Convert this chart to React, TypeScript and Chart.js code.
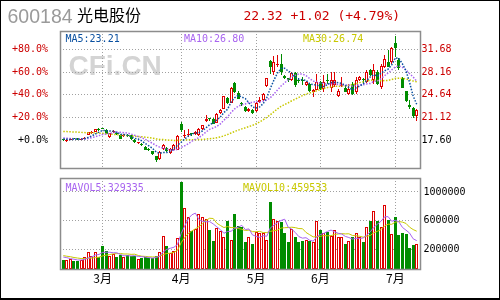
import React, { useEffect, useRef } from "react";
import { Chart, registerables } from "chart.js";

Chart.register(...registerables);

// ---------- text ----------
const stockCode = "600184";
const stockName = "光电股份";
const quoteText = "22.32 +1.02 (+4.79%)";
const maLabels = ["MA5:23.21", "MA10:26.80", "MA30:26.74"];
const volMaLabels = ["MAVOL5:329335", "MAVOL10:459533"];
const watermark = "CFi.CN";

// ---------- axes ----------
const baseClose = 17.6;
const priceTicks = [17.6, 21.12, 24.64, 28.16, 31.68];
const volumeTicks = [200000, 600000, 1000000];
const monthLabels = ["3月", "4月", "5月", "6月", "7月"];
const monthStartIndex = [11, 33, 54, 72, 93];

// ---------- daily data ----------
const opens = [
  17.70, 17.50, 17.68, 17.95, 17.85, 17.72, 17.82, 18.45, 18.80, 18.90,
  19.30, 19.45, 19.25, 18.12, 18.85, 18.73, 18.42, 18.28, 18.40, 18.37,
  17.70, 17.20, 17.10, 16.57, 16.30, 15.95, 15.12, 14.76, 16.31, 16.45,
  15.64, 16.15, 16.15, 20.08, 18.30, 18.45, 18.60, 18.60, 18.37, 19.30,
  20.60, 21.00, 20.96, 20.29, 21.84, 22.51, 24.16, 23.39, 26.49, 24.94,
  23.30, 22.77, 22.15, 22.35, 22.15, 23.55, 23.80, 26.02, 29.84, 28.19,
  29.22, 29.48, 27.52, 27.16, 26.90, 28.04, 26.95, 26.90, 26.12, 26.38,
  25.09, 25.45, 26.64, 25.61, 26.85, 25.76, 26.12, 24.47, 26.00, 25.76,
  24.83, 26.38, 25.09, 26.90, 27.00, 26.64, 28.45, 26.90, 28.19, 25.87,
  28.97, 29.74, 29.74, 32.58, 30.00, 27.31, 25.25, 23.02, 22.66, 21.37,
];
const highs = [
  17.80, 17.75, 17.95, 18.00, 17.95, 17.90, 18.15, 18.95, 19.10, 19.35,
  19.45, 19.55, 19.30, 18.80, 19.20, 18.90, 18.50, 18.50, 18.50, 18.45,
  17.80, 17.40, 17.15, 16.65, 16.40, 16.00, 15.20, 15.90, 17.00, 16.60,
  16.40, 17.00, 18.35, 20.44, 19.15, 19.40, 18.80, 19.00, 19.50, 20.00,
  21.50, 21.10, 21.00, 21.80, 22.40, 24.50, 24.30, 25.90, 26.60, 25.20,
  23.50, 22.90, 22.60, 22.50, 23.50, 24.30, 24.90, 27.20, 30.00, 30.62,
  30.77, 30.93, 27.70, 27.30, 28.10, 28.10, 27.20, 27.42, 26.80, 26.50,
  25.61, 27.93, 26.80, 27.67, 27.93, 28.19, 28.19, 25.61, 27.42, 26.00,
  26.38, 26.60, 27.42, 27.60, 27.20, 28.40, 28.60, 29.48, 28.40, 29.48,
  30.77, 31.55, 32.07, 33.72, 30.26, 27.40, 25.30, 23.80, 22.80, 22.40,
];
const lows = [
  17.45, 17.40, 17.60, 17.75, 17.70, 17.65, 17.75, 18.35, 18.55, 18.85,
  19.10, 19.30, 18.50, 18.00, 18.70, 18.45, 17.75, 18.10, 18.10, 17.70,
  17.20, 17.10, 16.70, 16.05, 15.95, 15.35, 14.24, 14.60, 16.15, 15.85,
  15.55, 16.00, 16.05, 18.89, 18.00, 18.10, 18.20, 18.40, 18.30, 19.20,
  20.45, 20.60, 20.10, 20.20, 21.70, 22.40, 23.20, 23.30, 24.90, 23.95,
  22.90, 22.00, 22.00, 21.70, 22.00, 23.30, 23.70, 25.90, 27.93, 27.67,
  28.97, 27.67, 27.10, 26.60, 26.80, 25.90, 26.50, 26.12, 26.00, 25.10,
  24.32, 25.35, 25.40, 25.09, 26.38, 25.09, 25.87, 24.32, 25.87, 25.00,
  24.57, 24.57, 24.83, 26.70, 26.50, 26.50, 27.50, 26.38, 26.20, 25.61,
  28.71, 28.90, 29.48, 30.52, 28.55, 25.70, 23.60, 22.51, 21.10, 20.60,
];
const closes = [
  17.60, 17.68, 17.85, 17.80, 17.78, 17.82, 18.00, 18.88, 18.90, 19.28,
  19.25, 19.38, 18.55, 18.73, 19.00, 18.53, 17.81, 18.35, 18.22, 17.81,
  17.29, 17.30, 16.85, 16.15, 16.05, 15.43, 14.50, 15.79, 16.82, 15.95,
  16.31, 16.82, 18.22, 19.15, 18.45, 18.55, 18.50, 18.90, 19.41, 19.92,
  20.96, 20.90, 20.18, 21.73, 22.25, 24.42, 23.39, 25.76, 25.09, 24.06,
  23.18, 22.15, 22.51, 21.84, 23.39, 23.90, 24.73, 27.16, 28.97, 29.74,
  29.48, 28.19, 27.31, 26.90, 28.04, 26.12, 26.85, 26.80, 26.64, 25.25,
  25.45, 26.64, 25.61, 26.64, 26.75, 27.00, 26.90, 25.19, 26.15, 25.09,
  25.61, 24.83, 26.90, 27.42, 26.90, 28.19, 27.67, 28.55, 26.38, 29.07,
  30.10, 28.97, 31.81, 31.81, 28.71, 25.76, 23.70, 22.77, 21.30, 22.32,
];
const volumes = [
  66000, 66000, 75000, 48000, 48000, 62000, 108000, 177000, 121000, 177000,
  98000, 250000, 190000, 121000, 144000, 98000, 130000, 98000, 130000, 121000,
  121000, 75000, 85000, 98000, 85000, 85000, 121000, 177000, 397000, 259000,
  158000, 190000, 369000, 1142000, 781000, 659000, 466000, 489000, 696000, 659000,
  627000, 480000, 328000, 498000, 466000, 374000, 604000, 342000, 701000, 535000,
  512000, 314000, 383000, 287000, 443000, 434000, 434000, 342000, 866000, 627000,
  604000, 590000, 429000, 314000, 489000, 374000, 305000, 328000, 342000, 319000,
  305000, 604000, 480000, 434000, 452000, 397000, 480000, 383000, 383000, 287000,
  319000, 374000, 439000, 374000, 314000, 521000, 604000, 742000, 595000, 512000,
  825000, 618000, 425000, 659000, 411000, 439000, 425000, 226000, 264000, 285000,
];
// sessions before the visible window (needed for the moving averages)
const priorCloses = [
  18.3, 18.6, 18.9, 18.5, 18.8, 19.2, 19.0, 19.5, 19.9, 20.3,
  20.1, 20.6, 20.4, 20.0, 20.2, 19.7, 19.5, 19.8, 19.3, 18.6,
  18.3, 18.2, 18.0, 18.1, 18.1, 17.9, 18.0, 17.7, 17.8,
];
const priorVolumes = [150000, 140000, 160000, 120000, 130000, 110000, 140000, 90000, 100000];

// ---------- style ----------
const UP = "#e00000";
const DOWN = "#008c00";
const LABEL_RED = "#cc0000";
const GRID = "#a0a0a0";
const FRAME = "#8c8c8c";
const MA5_C = "#0a50a0";
const MA10_C = "#a864f0";
const MA30_C = "#c8c800";
const MONO = "'DejaVu Sans Mono', monospace";

const X_MIN = -0.92;
const X_MAX = 99.92;
const PRICE_MIN = 13.31;
const PRICE_MAX = 34.51;
const VOL_MIN = -64000;
const VOL_MAX = 1192000;

function movingAverage(values: number[], prior: number[], n: number) {
  const all = prior.concat(values);
  const off = prior.length;
  return values.map((_, i) => {
    const end = off + i;
    let s = 0;
    for (let k = end - n + 1; k <= end; k++) s += all[k];
    return s / n;
  });
}

const isUp = (i: number) => closes[i] >= opens[i];
const pts = (arr: number[]) => arr.map((v, i) => ({ x: i, y: v }));

// snap bar elements (positions computed by the scales) to the pixel grid for crisp edges
const snapBars = {
  id: "snapBars",
  afterDatasetsUpdate(chart: any) {
    chart.data.datasets.forEach((_d: any, di: number) => {
      const meta = chart.getDatasetMeta(di);
      if (meta.type !== "bar") return;
      meta.data.forEach((el: any) => {
        el.x = Math.floor(el.x) + 0.5;
        const y = Math.round(el.y);
        let b = Math.round(el.base);
        if (Math.abs(b - y) < 1) b = y + 1;
        el.y = y;
        el.base = b;
        el.height = b - y;
      });
    });
  },
};

const framePlugin = {
  id: "frame",
  afterDatasetsDraw(chart: any) {
    const { ctx, chartArea: a } = chart;
    ctx.save();
    ctx.strokeStyle = FRAME;
    ctx.lineWidth = 1.5;
    ctx.strokeRect(a.left + 0.5, a.top + 0.5, a.right - a.left, a.bottom - a.top);
    ctx.restore();
  },
};

const priceDecor = {
  id: "priceDecor",
  beforeDraw(chart: any) {
    const ctx = chart.ctx;
    ctx.save();
    ctx.textBaseline = "alphabetic";
    ctx.textAlign = "left";
    // watermark
    ctx.fillStyle = "#d4d4d4";
    ctx.font = "bold 28px 'Liberation Sans', Arial, sans-serif";
    ctx.fillText(watermark, 68.5, 75);
    // title row
    ctx.fillStyle = "#9a9a9a";
    ctx.font = "19.5px 'Liberation Sans', Arial, sans-serif";
    ctx.fillText(stockCode, 7.5, 23.3);
    ctx.fillStyle = "#000";
    ctx.font = "16px 'Noto Sans CJK SC', sans-serif";
    ctx.fillText(stockName, 77, 20.7);
    ctx.fillStyle = LABEL_RED;
    ctx.font = "13px " + MONO;
    ctx.fillText(quoteText, 243.5, 19.5);
    ctx.restore();
  },
  afterDraw(chart: any) {
    const ctx = chart.ctx;
    ctx.save();
    ctx.textBaseline = "alphabetic";
    ctx.font = "10px " + MONO;
    ctx.fillStyle = MA5_C;
    ctx.fillText(maLabels[0], 65.5, 42);
    ctx.fillStyle = MA10_C;
    ctx.fillText(maLabels[1], 184, 42);
    ctx.fillStyle = MA30_C;
    ctx.fillText(maLabels[2], 303, 42);
    // outer black frame
    ctx.fillStyle = "#000";
    ctx.fillRect(0, 0, 500, 1);
    ctx.fillRect(0, 0, 1, 300);
    ctx.fillRect(499, 0, 1, 300);
    ctx.fillRect(0, 298, 500, 2);
    ctx.restore();
  },
};

const volDecor = {
  id: "volDecor",
  afterDraw(chart: any) {
    const ctx = chart.ctx;
    ctx.save();
    ctx.textBaseline = "alphabetic";
    ctx.font = "10px " + MONO;
    ctx.fillStyle = MA10_C;
    ctx.fillText(volMaLabels[0], 65.5, 190.5);
    ctx.fillStyle = MA30_C;
    ctx.fillText(volMaLabels[1], 243, 190.5);
    ctx.restore();
  },
};

function priceConfig(): any {
  const ma5 = movingAverage(closes, priorCloses, 5);
  const ma10 = movingAverage(closes, priorCloses, 10);
  const ma30 = movingAverage(closes, priorCloses, 30);
  const n = closes.length;
  const idx = Array.from({ length: n }, (_, i) => i);
  const maLine = (data: number[], color: string) => ({
    type: "line",
    data: pts(data),
    borderColor: color,
    borderWidth: 1.5,
    borderDash: [1.5, 1.5],
    pointRadius: 0,
    tension: 0,
    order: 0,
  });
  return {
    type: "bar",
    data: {
      datasets: [
        {
          type: "bar",
          data: idx.map((i) => ({ x: i, y: [lows[i], highs[i]] })),
          backgroundColor: idx.map((i) => (isUp(i) ? UP : DOWN)),
          barThickness: 1,
          grouped: false,
          inflateAmount: 0,
          order: 2,
        },
        {
          type: "bar",
          data: idx.map((i) => ({
            x: i,
            y: [Math.min(opens[i], closes[i]), Math.max(opens[i], closes[i])],
          })),
          backgroundColor: idx.map((i) => (isUp(i) ? "#ffffff" : DOWN)),
          borderColor: idx.map((i) => (isUp(i) ? UP : DOWN)),
          borderWidth: 1,
          borderSkipped: false,
          barThickness: 3,
          minBarLength: 1,
          grouped: false,
          inflateAmount: 0,
          order: 1,
        },
        maLine(ma5, MA5_C),
        maLine(ma10, MA10_C),
        maLine(ma30, MA30_C),
      ],
    },
    options: {
      responsive: false,
      animation: false,
      devicePixelRatio: 1,
      events: [],
      layout: { padding: { top: 31, bottom: 132, left: 0, right: 0 } },
      plugins: { legend: { display: false }, tooltip: { enabled: false } },
      scales: {
        x: {
          type: "linear",
          offset: false,
          min: X_MIN,
          max: X_MAX,
          afterBuildTicks: (s: any) => {
            s.ticks = monthStartIndex.map((v) => ({ value: v }));
          },
          afterFit: (s: any) => {
            s.height = 0;
          },
          ticks: { display: false },
          grid: { offset: false, color: GRID, drawTicks: false, lineWidth: 1, borderDash: [1, 2] },
          border: { display: false, dash: [1, 2] },
        },
        y: {
          type: "linear",
          position: "right",
          min: PRICE_MIN,
          max: PRICE_MAX,
          afterBuildTicks: (s: any) => {
            s.ticks = priceTicks.map((v) => ({ value: v }));
          },
          afterFit: (s: any) => {
            s.width = 80;
          },
          ticks: {
            font: { family: MONO, size: 10 },
            color: (c: any) => (c.tick && c.tick.value === baseClose ? "#000" : LABEL_RED),
            padding: 1.5,
            callback: (v: number) => v.toFixed(2),
          },
          grid: { color: GRID, drawTicks: false, lineWidth: 1, borderDash: [1, 2] },
          border: { display: false, dash: [1, 2] },
        },
        yl: {
          type: "linear",
          position: "left",
          min: PRICE_MIN,
          max: PRICE_MAX,
          afterBuildTicks: (s: any) => {
            s.ticks = priceTicks.map((v) => ({ value: v }));
          },
          afterFit: (s: any) => {
            s.width = 60;
          },
          ticks: {
            font: { family: MONO, size: 10 },
            color: (c: any) => (c.tick && c.tick.value === baseClose ? "#000" : LABEL_RED),
            padding: 12,
            callback: (v: number) => {
              const p = (v / baseClose - 1) * 100;
              return (p >= 0 ? "+" : "") + p.toFixed(1) + "%";
            },
          },
          grid: { display: false, drawTicks: false },
          border: { display: false },
        },
      },
    },
    plugins: [priceDecor, snapBars, framePlugin],
  };
}

function volumeConfig(): any {
  const mv5 = movingAverage(volumes, priorVolumes, 5);
  const mv10 = movingAverage(volumes, priorVolumes, 10);
  const n = volumes.length;
  const idx = Array.from({ length: n }, (_, i) => i);
  const line = (data: number[], color: string) => ({
    type: "line",
    data: pts(data),
    borderColor: color,
    borderWidth: 1,
    pointRadius: 0,
    tension: 0,
    order: 0,
  });
  return {
    type: "bar",
    data: {
      datasets: [
        {
          type: "bar",
          data: pts(volumes),
          base: VOL_MIN,
          backgroundColor: idx.map((i) => (isUp(i) ? "#ffffff" : DOWN)),
          borderColor: idx.map((i) => (isUp(i) ? UP : DOWN)),
          borderWidth: 1,
          borderSkipped: false,
          barThickness: 3,
          grouped: false,
          inflateAmount: 0,
          order: 1,
        },
        line(mv5, MA10_C),
        line(mv10, MA30_C),
      ],
    },
    options: {
      responsive: false,
      animation: false,
      devicePixelRatio: 1,
      events: [],
      layout: { padding: { top: 178, bottom: 11, left: 60, right: 0 } },
      plugins: { legend: { display: false }, tooltip: { enabled: false } },
      scales: {
        x: {
          type: "linear",
          offset: false,
          min: X_MIN,
          max: X_MAX,
          afterBuildTicks: (s: any) => {
            s.ticks = monthStartIndex.map((v) => ({ value: v }));
          },
          afterFit: (s: any) => {
            s.height = 20;
          },
          ticks: {
            autoSkip: false,
            maxRotation: 0,
            padding: 2,
            color: "#000",
            font: { family: "'Noto Sans CJK SC', sans-serif", size: 12 },
            callback: (_v: number, i: number) => monthLabels[i],
          },
          grid: { offset: false, color: GRID, drawTicks: false, lineWidth: 1, borderDash: [1, 2] },
          border: { display: false, dash: [1, 2] },
        },
        y: {
          type: "linear",
          position: "right",
          min: VOL_MIN,
          max: VOL_MAX,
          afterBuildTicks: (s: any) => {
            s.ticks = volumeTicks.map((v) => ({ value: v }));
          },
          afterFit: (s: any) => {
            s.width = 80;
          },
          ticks: {
            font: { family: MONO, size: 10 },
            color: "#000",
            padding: 3.5,
            callback: (v: number) => String(v),
          },
          grid: { color: GRID, drawTicks: false, lineWidth: 1, borderDash: [1, 2] },
          border: { display: false, dash: [1, 2] },
        },
      },
    },
    plugins: [volDecor, snapBars, framePlugin],
  };
}

export default function App() {
  const priceRef = useRef<HTMLCanvasElement>(null);
  const volRef = useRef<HTMLCanvasElement>(null);
  useEffect(() => {
    const c1 = new Chart(priceRef.current as HTMLCanvasElement, priceConfig());
    const c2 = new Chart(volRef.current as HTMLCanvasElement, volumeConfig());
    return () => {
      c1.destroy();
      c2.destroy();
    };
  }, []);
  return (
    <div
      style={{
        position: "fixed",
        left: 0,
        top: 0,
        width: 500,
        height: 300,
        background: "#fff",
        overflow: "hidden",
      }}
    >
      <canvas
        ref={priceRef}
        width={500}
        height={300}
        style={{ position: "absolute", left: 0, top: 0, width: 500, height: 300 }}
      />
      <canvas
        ref={volRef}
        width={500}
        height={300}
        style={{ position: "absolute", left: 0, top: 0, width: 500, height: 300 }}
      />
    </div>
  );
}
